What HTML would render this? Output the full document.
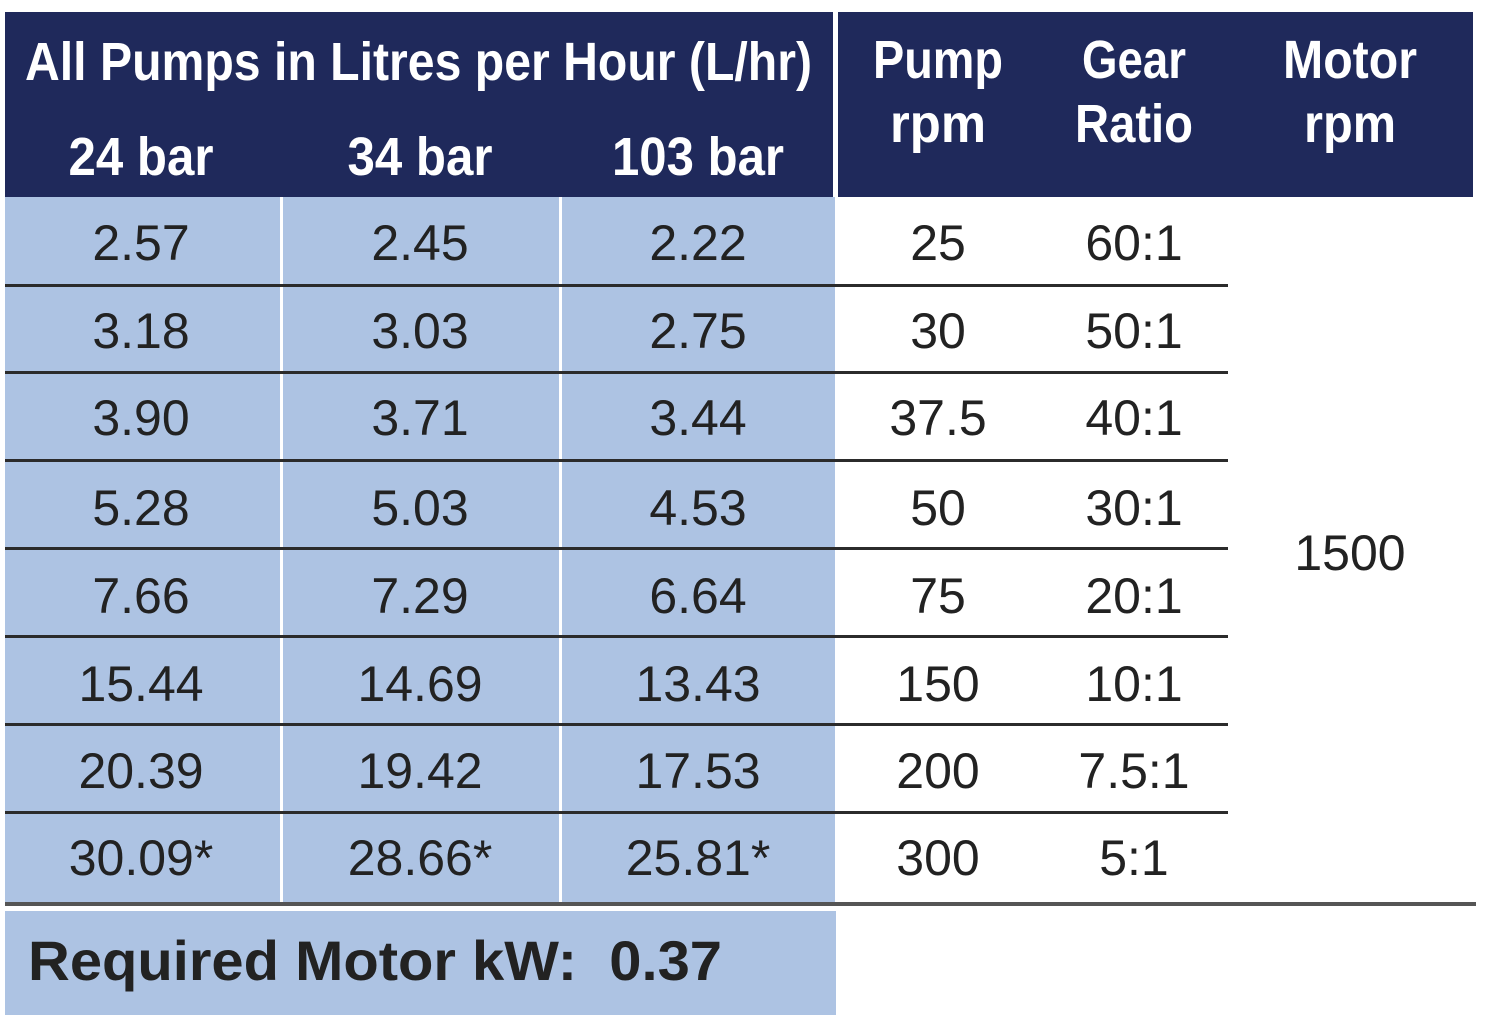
<!DOCTYPE html>
<html><head><meta charset="utf-8"><style>
html,body{margin:0;padding:0;background:#fff;}
svg{display:block;}
text{font-family:"Liberation Sans",sans-serif;}
</style></head><body>
<svg width="1500" height="1020" viewBox="0 0 1500 1020" xmlns="http://www.w3.org/2000/svg">
<rect x="0" y="0" width="1500" height="1020" fill="#fff"/>
<rect x="5" y="12" width="828" height="185" fill="#1f295b"/>
<rect x="838" y="12" width="635" height="185" fill="#1f295b"/>
<rect x="5" y="197" width="830" height="706" fill="#adc3e3"/>
<rect x="280" y="197" width="3" height="706" fill="#fff"/>
<rect x="559" y="197" width="3" height="706" fill="#fff"/>
<g fill="#2b2b2b">
<rect x="5" y="284" width="1223" height="3"/>
<rect x="5" y="371" width="1223" height="3"/>
<rect x="5" y="459" width="1223" height="3"/>
<rect x="5" y="547" width="1223" height="3"/>
<rect x="5" y="635" width="1223" height="3"/>
<rect x="5" y="723" width="1223" height="3"/>
<rect x="5" y="811" width="1223" height="3"/>
</g>
<rect x="5" y="902" width="1471" height="4" fill="#555"/>
<rect x="5" y="911" width="831" height="104" fill="#adc3e3"/>

<g fill="#fff" font-weight="bold">
<text x="25" y="80" font-size="54" textLength="787" lengthAdjust="spacingAndGlyphs">All Pumps in Litres per Hour (L/hr)</text>
<text x="141" y="175" font-size="54" text-anchor="middle" textLength="145" lengthAdjust="spacingAndGlyphs">24 bar</text>
<text x="420" y="175" font-size="54" text-anchor="middle" textLength="145" lengthAdjust="spacingAndGlyphs">34 bar</text>
<text x="698" y="175" font-size="54" text-anchor="middle" textLength="172" lengthAdjust="spacingAndGlyphs">103 bar</text>
<text x="938" y="78" font-size="54" text-anchor="middle" textLength="130" lengthAdjust="spacingAndGlyphs">Pump</text>
<text x="938" y="142" font-size="54" text-anchor="middle" textLength="96" lengthAdjust="spacingAndGlyphs">rpm</text>
<text x="1134" y="78" font-size="54" text-anchor="middle" textLength="104" lengthAdjust="spacingAndGlyphs">Gear</text>
<text x="1134" y="142" font-size="54" text-anchor="middle" textLength="118" lengthAdjust="spacingAndGlyphs">Ratio</text>
<text x="1350" y="78" font-size="54" text-anchor="middle" textLength="134" lengthAdjust="spacingAndGlyphs">Motor</text>
<text x="1350" y="142" font-size="54" text-anchor="middle" textLength="92" lengthAdjust="spacingAndGlyphs">rpm</text>
</g>

<g fill="#222" font-size="50" text-anchor="middle">
<text x="141" y="260">2.57</text><text x="420" y="260">2.45</text><text x="698" y="260">2.22</text><text x="938" y="260">25</text><text x="1134" y="260">60:1</text>
<text x="141" y="348">3.18</text><text x="420" y="348">3.03</text><text x="698" y="348">2.75</text><text x="938" y="348">30</text><text x="1134" y="348">50:1</text>
<text x="141" y="435">3.90</text><text x="420" y="435">3.71</text><text x="698" y="435">3.44</text><text x="938" y="435">37.5</text><text x="1134" y="435">40:1</text>
<text x="141" y="525">5.28</text><text x="420" y="525">5.03</text><text x="698" y="525">4.53</text><text x="938" y="525">50</text><text x="1134" y="525">30:1</text>
<text x="141" y="613">7.66</text><text x="420" y="613">7.29</text><text x="698" y="613">6.64</text><text x="938" y="613">75</text><text x="1134" y="613">20:1</text>
<text x="141" y="701">15.44</text><text x="420" y="701">14.69</text><text x="698" y="701">13.43</text><text x="938" y="701">150</text><text x="1134" y="701">10:1</text>
<text x="141" y="788">20.39</text><text x="420" y="788">19.42</text><text x="698" y="788">17.53</text><text x="938" y="788">200</text><text x="1134" y="788">7.5:1</text>
<text x="141" y="875">30.09*</text><text x="420" y="875">28.66*</text><text x="698" y="875">25.81*</text><text x="938" y="875">300</text><text x="1134" y="875">5:1</text>
<text x="1350" y="570">1500</text>
</g>

<text x="28" y="980" font-size="56" font-weight="bold" fill="#222" textLength="694" lengthAdjust="spacingAndGlyphs">Required Motor kW:&#160; 0.37</text>
</svg>
</body></html>
